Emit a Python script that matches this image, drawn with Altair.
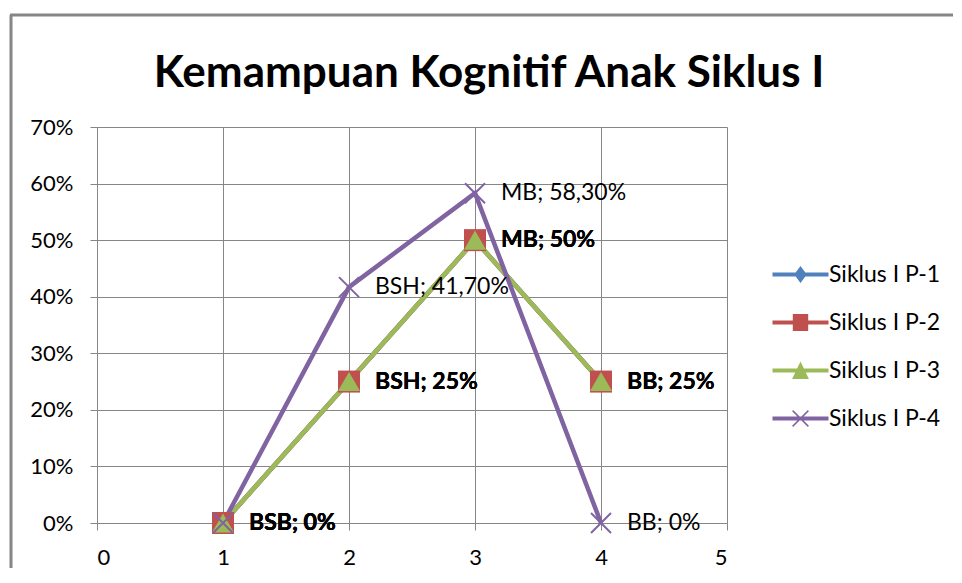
import altair as alt
import pandas as pd

# ---- data ----
x_vals = [1, 2, 3, 4]
categories = ["BSB", "BSH", "MB", "BB"]
series_names = ["Siklus I P-1", "Siklus I P-2", "Siklus I P-3", "Siklus I P-4"]
p1 = [0.0, 0.25, 0.50, 0.25]
p2 = [0.0, 0.25, 0.50, 0.25]
p3 = [0.0, 0.25, 0.50, 0.25]
p4 = [0.0, 0.417, 0.583, 0.0]
p1_text = ["0%", "25%", "50%", "25%"]
p2_text = ["0%", "25%", "50%", "25%"]
p3_text = ["0%", "25%", "50%", "25%"]
p4_text = ["0%", "41,70%", "58,30%", "0%"]
colors = ["#4F81BD", "#C0504D", "#9BBB59", "#8064A2"]
x_ticks = [0, 1, 2, 3, 4, 5]
y_ticks = [0.0, 0.1, 0.2, 0.3, 0.4, 0.5, 0.6, 0.7]

values = [p1, p2, p3, p4]
texts = [p1_text, p2_text, p3_text, p4_text]
rows = []
for si, name in enumerate(series_names):
    for j, xv in enumerate(x_vals):
        rows.append({
            "x": xv,
            "y": values[si][j],
            "series": name,
            "order": si,
            "label": f"{categories[j]}; {texts[si][j]}",
        })
df = pd.DataFrame(rows)

FONT = "Lato"
GRID = "#868686"

# legend symbols: line + marker as one filled path
line_part = "M-4,-0.3L4,-0.3L4,0.3L-4,0.3Z"
legend_paths = [
    line_part + "M0,-1.2L0.9,0L0,1.2L-0.9,0Z",
    line_part + "M-1.1,-1.2L1.1,-1.2L1.1,1.2L-1.1,1.2Z",
    line_part + "M0,-1.3L1.2,1.2L-1.2,1.2Z",
    line_part + "M-1.2,-1.05L-1.05,-1.2L1.2,1.05L1.05,1.2Z"
                "M1.05,-1.2L1.2,-1.05L-1.05,1.2L-1.2,1.05Z",
]

xs = alt.X("x:Q", scale=alt.Scale(domain=[0, 5], nice=False, zero=False),
           axis=alt.Axis(values=x_ticks, format="d", title=None, grid=True,
                         labelPadding=17))
ys = alt.Y("y:Q", scale=alt.Scale(domain=[0, 0.7], nice=False),
           axis=alt.Axis(values=y_ticks, format=".0%", title=None, grid=True,
                         labelPadding=17))

base = alt.Chart(df)

line_layers = []
for si in range(4):
    line_layers.append(
        base.transform_filter(alt.datum.order == si).mark_line(
            strokeWidth=4.5, color=colors[si]
        ).encode(x=xs, y=ys)
    )

marker_layers = []
for si, shp in enumerate(["diamond", "square", "triangle-up"]):
    marker_layers.append(
        base.transform_filter(alt.datum.order == si).mark_point(
            filled=True, opacity=1, size=484, shape=shp, color=colors[si]
        ).encode(x=xs, y=ys)
    )

x_pts = base.transform_filter(alt.datum.order == 3).mark_point(
    filled=False, opacity=1, size=400, strokeWidth=2,
    shape="M-1,-1L1,1M-1,1L1,-1", color=colors[3],
).encode(x=xs, y=ys)

legend_layer = base.mark_point(filled=True, opacity=1).encode(
    x=xs, y=ys,
    size=alt.value(0),
    color=alt.Color("series:N", scale=alt.Scale(domain=series_names, range=colors),
                    legend=alt.Legend(
        title=None, orient="none", legendX=692, legendY=136,
        symbolSize=196, symbolOpacity=1, symbolStrokeWidth=0,
        labelFont=FONT, labelFontSize=23, labelColor="black",
        labelOffset=17, rowPadding=24, padding=0,
    )),
    shape=alt.Shape("series:N", scale=alt.Scale(domain=series_names,
                    range=legend_paths)),
)

labels_bold = base.transform_filter(alt.datum.order < 3).mark_text(
    align="left", baseline="middle", dx=26, font=FONT, fontSize=23,
    fontWeight="bold", color="black",
).encode(x=xs, y=ys, text="label:N")

labels_norm = base.transform_filter(alt.datum.order == 3).mark_text(
    align="left", baseline="middle", dx=26, font=FONT, fontSize=23,
    color="black",
).encode(x=xs, y=ys, text="label:N")

frame_df = pd.DataFrame({"k": [0]})
frame_left = alt.Chart(frame_df).mark_rule(color=GRID, strokeWidth=3).encode(
    x=alt.value(-86), y=alt.value(-112), y2=alt.value(470))
frame_top = alt.Chart(frame_df).mark_rule(color=GRID, strokeWidth=3).encode(
    x=alt.value(-87), x2=alt.value(900), y=alt.value(-112))

chart = alt.layer(
    frame_left, frame_top, *line_layers, *marker_layers, x_pts, legend_layer,
    labels_bold, labels_norm,
).properties(
    width=630, height=396,
    padding={"left": 89, "top": 119, "right": 226, "bottom": 45},
    autosize=alt.AutoSizeParams(type="none"),
    background="white",
    title=alt.TitleParams(
        "Kemampuan Kognitif Anak Siklus I", font=FONT, fontSize=44,
        fontWeight="bold", color="black", anchor="middle", frame="group",
        dx=77, offset=-117, baseline="alphabetic",
    ),
).configure_axis(
    gridColor=GRID, gridWidth=1, domainColor=GRID, domainWidth=1,
    tickColor=GRID, tickSize=7, tickWidth=1,
    labelFont=FONT, labelFontSize=22, labelColor="black",
).configure_view(stroke=None)

chart.save("out.html", embed_options={"renderer": "svg", "actions": False})
